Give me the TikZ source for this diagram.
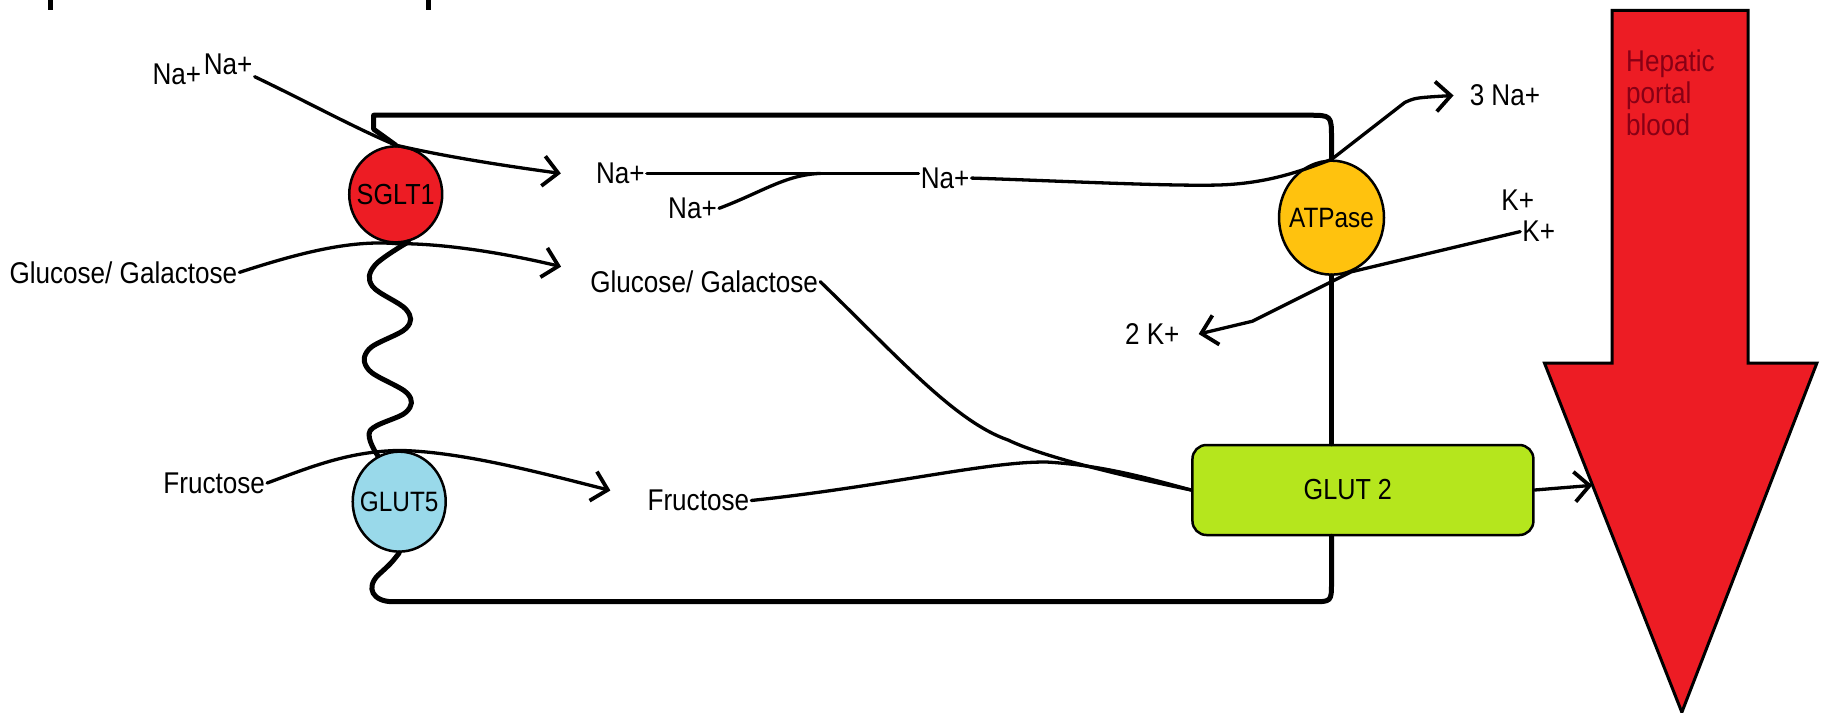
\documentclass[tikz,border=0pt]{standalone}
\usepackage{fontspec}
\setmainfont{Liberation Sans}[FakeStretch=0.87]
\usetikzlibrary{arrows.meta,shapes.geometric}
\definecolor{pred}{HTML}{ED1C24}
\definecolor{pgold}{HTML}{FFC20E}
\definecolor{pblue}{HTML}{99D9EA}
\definecolor{plime}{HTML}{B5E61D}
\definecolor{pdark}{HTML}{880015}
\begin{document}
\begin{tikzpicture}[x=1.164pt,y=-1.164pt,
  lbl/.style={font=\fontsize{30}{34}\selectfont, inner sep=2pt},
  protlbl/.style={font=\fontsize{28}{32}\selectfont, inner sep=0pt},
  prot/.style={ellipse, draw=black, line width=2.5pt, inner sep=0pt},
  mem/.style={line width=5pt, line cap=round, line join=round},
  flow/.style={line width=3.3pt, line cap=round, line join=round},
  arr/.style={flow, -{Straight Barb[length=15pt,width=30pt,line width=3.8pt]}}]
\useasboundingbox (0,0) rectangle (1568,612);

% stray marks at top
\draw[line width=5pt] (43,0) -- (43,9);
\draw[line width=5pt] (368,0) -- (368,9);

% hepatic portal blood arrow
\draw[line width=3pt, fill=pred, line join=miter] (1385,9) -- (1502,9) -- (1502,312) -- (1561,312) -- (1445,612) -- (1327,312) -- (1385,312) -- cycle;
\node[anchor=north west, align=left, text=pdark, inner sep=0pt, font=\fontsize{30}{32}\selectfont] (hpb) at (1397,43) {Hepatic\\portal\\blood};
\coordinate (redin) at (1368,417);

% proteins
\node[prot, fill=pred, minimum width=93pt, minimum height=96pt, label={[protlbl, font=\fontsize{29}{32}\selectfont]center:SGLT1}] (sglt) at (340,167) {};
\node[prot, fill=pblue, minimum width=93pt, minimum height=100pt, label={[protlbl]center:GLUT5}] (g5) at (343,431) {};
\node[prot, fill=pgold, minimum width=105pt, minimum height=114pt, label={[protlbl]center:ATPase}] (atp) at (1144,187) {};
\node[draw, line width=2.5pt, fill=plime, rounded corners=14pt, minimum width=341pt, minimum height=90pt, inner sep=0pt] (glut) at (1171,421) {};
\node[lbl, font=\fontsize{29}{32}\selectfont] (glutT) at (1158,421) {GLUT 2};

% labels
\node[lbl] (naA) at (152,64) {Na+};
\node[lbl] (naB) at (196,55) {Na+};
\node[lbl] (glcL) at (106,234) {Glucose/ Galactose};
\node[lbl] (fruL) at (184,415) {Fructose};
\node[lbl] (naC) at (533,149) {Na+};
\node[lbl] (naD) at (595,179) {Na+};
\node[lbl] (naE) at (812,153) {Na+};
\node[lbl] (glcR) at (605,242) {Glucose/ Galactose};
\node[lbl] (fruR) at (600,430) {Fructose};
\node[lbl] (na3) at (1293,82) {3 Na+};
\node[lbl] (kA) at (1304,172) {K+};
\node[lbl] (kB) at (1322,199) {K+};
\node[lbl] (k2) at (990,287) {2 K+};
\coordinate (najoin) at (705,149);

% membrane
\draw[mem] (sglt.north) -- (321,111) -- (321,99) -- (1124,99) .. controls (1144,99) .. (1144,119) -- (atp.north);
\draw[mem] (atp.south) -- (atp.south |- glut.north);
\draw[mem] (atp.south |- glut.south) -- (1144,500) .. controls (1144,517) .. (1127,517) -- (338,517) .. controls (320,517) and (314,505) .. (325,494) .. controls (336,484) .. (g5.south);
\draw[mem] plot[smooth, tension=0.6] coordinates {(sglt.-75) (322,228) (320,246) (349,266) (349,282) (317,300) (317,318) (350,338) (349,354) (318,370) (g5.115)};

% transport routes
\draw[arr] (naB.south east) .. controls (265,88) and (305,110) .. (sglt.north) .. controls (380,134) and (430,142) .. ([xshift=-33pt]naC.west);
\draw[arr] (glcL.east) .. controls (255,218) and (300,206) .. (sglt.south) .. controls (385,209) and (440,219) .. ([xshift=-27pt,yshift=15pt]glcR.west);
\draw[arr] (fruL.east) .. controls (270,400) and (300,388) .. (g5.north) .. controls (395,388) and (460,405) .. ([xshift=-35pt,yshift=10pt]fruR.west);
\draw[flow] (naC.east) -- (naC.east -| naE.west);
\draw[flow] (naD.east) .. controls (655,165) and (675,150) .. (najoin);
\draw[flow] (naE.east) .. controls (900,155) and (1000,160) .. (1045,159) .. controls (1090,158) and (1120,146) .. (atp.north);
\draw[arr] (atp.north) -- (1207,88) .. controls (1216,84) .. ([xshift=-14pt]na3.west);
\draw[arr] (kB.west) -- (atp.-70) -- (1076,276) -- ([xshift=17pt]k2.east);
\draw[flow] (glcR.east) .. controls (770,305) and (820,362) .. (866,378) .. controls (895,392) and (960,408) .. (glut.west);
\draw[flow] (fruR.east) .. controls (760,418) and (850,396) .. (900,397) .. controls (950,400) and (990,412) .. (glut.west);
\draw[arr] (glut.east) -- (redin);
\end{tikzpicture}
\end{document}
